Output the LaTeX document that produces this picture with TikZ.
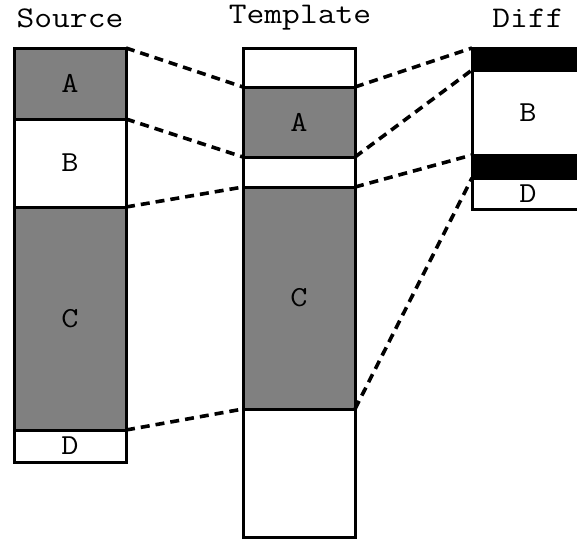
\documentclass[tikz,border=0pt]{standalone}
\usepackage{fontspec}
\newfontfamily\monofam{Latin Modern Mono}[FakeStretch=1.15]
\begin{document}
\begin{tikzpicture}[x=1pt,y=-1pt,
  blk/.style={draw=black, line width=3pt, inner sep=0pt, outer sep=0pt, anchor=north west,
    minimum width=112pt, font=\monofam\fontsize{29}{29}\selectfont},
  graybox/.style={blk, fill=black!50},
  whitebox/.style={blk, fill=white},
  blackbox/.style={blk, fill=black},
  conn/.style={line width=3.6pt, dash pattern=on 9pt off 6pt},
  title/.style={font=\monofam\fontsize{30}{30}\selectfont, inner sep=0pt}]
\useasboundingbox (0,0) rectangle (577,539);
\begin{scope}
\clip (0,0) rectangle (577,539);
% titles
\node[title] (tS) at (70,18) {Source};
\node[title] (tT) at (300,18) {Template};
\node[title] (tD) at (528,18) {Diff};
% Source
\node[graybox, minimum height=71pt] (sA) at (14,48) {A};
\node[whitebox, minimum height=88pt] (sB) at (14,119) {B};
\node[graybox, minimum height=223pt] (sC) at (14,207) {C};
\node[whitebox, minimum height=32pt] (sD) at (14,430) {D};
% Template
\node[whitebox, minimum height=39pt] (t0) at (243,48) {};
\node[graybox, minimum height=70pt] (tA) at (243,87) {A};
\node[whitebox, minimum height=30pt] (tB) at (243,157) {};
\node[graybox, minimum height=222pt] (tC) at (243,187) {C};
\node[whitebox, minimum height=128pt] (tE) at (243,409) {};
% Diff
\node[blackbox, minimum height=22pt] (d1) at (472,48) {};
\node[whitebox, minimum height=85pt] (dB) at (472,70) {B};
\node[blackbox, minimum height=23pt] (d2) at (472,155) {};
\node[whitebox, minimum height=31pt] (dD) at (472,178) {D};
% connectors
\draw[conn] (sA.north east) -- (tA.north west);
\draw[conn] (sB.north east) -- (tB.north west);
\draw[conn] (sC.north east) -- (tC.north west);
\draw[conn] (sD.north east) -- (tE.north west);
\draw[conn] (tA.north east) -- (d1.north west);
\draw[conn] (tB.north east) -- (dB.north west);
\draw[conn] (tC.north east) -- (d2.north west);
\draw[conn] (tE.north east) -- (dD.north west);
\end{scope}
\end{tikzpicture}
\end{document}
